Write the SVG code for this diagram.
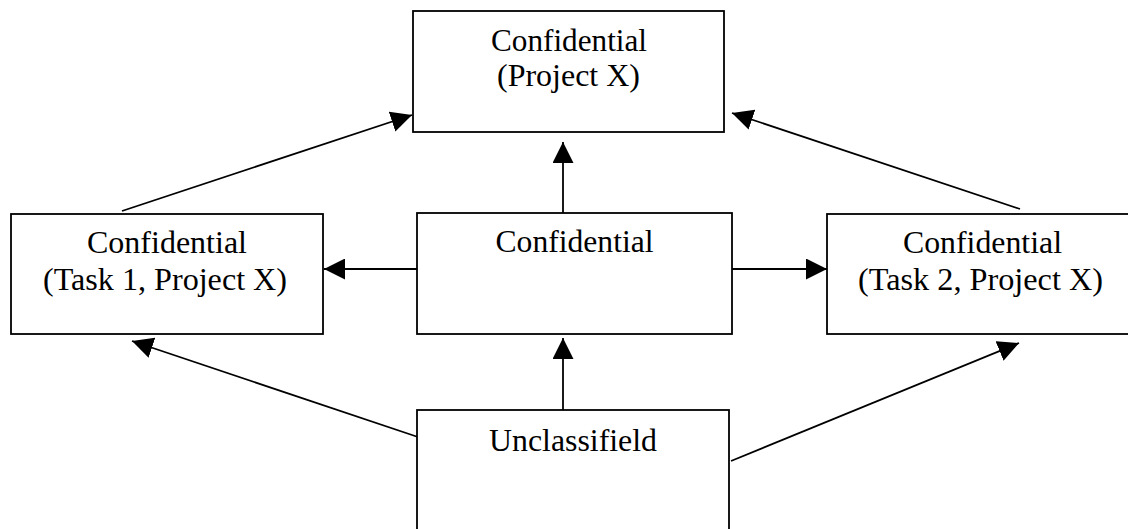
<svg xmlns="http://www.w3.org/2000/svg" width="1128" height="529" viewBox="0 0 1128 529">
<style>
.box{fill:#fff;stroke:#000;stroke-width:1.8}
.lbl{font-family:"Liberation Serif","Times New Roman",serif;font-size:32px;fill:#000;text-anchor:middle}
.con{stroke:#000;stroke-width:1.8;fill:none;marker-end:url(#ah)}
</style>
<defs>
<marker id="ah" markerUnits="userSpaceOnUse" markerWidth="21" markerHeight="21" refX="21" refY="10.5" orient="auto" viewBox="0 0 21 21">
<path d="M0,0 L21,10.5 L0,21 z" fill="#000"/>
</marker>
</defs>
<rect width="1128" height="529" fill="#fff"/>
<g id="connectors">
<line class="con" x1="563" y1="213" x2="563" y2="142"/>
<line class="con" x1="563" y1="410" x2="563" y2="338"/>
<line class="con" x1="417" y1="269" x2="324" y2="269"/>
<line class="con" x1="732" y1="269" x2="827" y2="269"/>
<line class="con" x1="122" y1="211" x2="412" y2="115"/>
<line class="con" x1="1020" y1="209" x2="732" y2="113"/>
<line class="con" x1="418" y1="437" x2="132" y2="341"/>
<line class="con" x1="731" y1="461" x2="1019" y2="343"/>
</g>
<g id="node-top">
<rect class="box" x="413" y="11" width="311" height="121"/>
<text class="lbl" x="569" y="51" textLength="156" lengthAdjust="spacingAndGlyphs">Confidential</text>
<text class="lbl" x="568.5" y="86" textLength="143" lengthAdjust="spacingAndGlyphs">(Project X)</text>
</g>
<g id="node-task1">
<rect class="box" x="11" y="214" width="312" height="120"/>
<text class="lbl" x="167" y="253" textLength="160" lengthAdjust="spacingAndGlyphs">Confidential</text>
<text class="lbl" x="165" y="290" textLength="244" lengthAdjust="spacingAndGlyphs">(Task 1, Project X)</text>
</g>
<g id="node-middle">
<rect class="box" x="417" y="213" width="315" height="121"/>
<text class="lbl" x="574.5" y="252" textLength="158" lengthAdjust="spacingAndGlyphs">Confidential</text>
</g>
<g id="node-task2">
<rect class="box" x="827" y="214" width="312" height="120"/>
<text class="lbl" x="982.5" y="253" textLength="159" lengthAdjust="spacingAndGlyphs">Confidential</text>
<text class="lbl" x="980.5" y="290" textLength="245" lengthAdjust="spacingAndGlyphs">(Task 2, Project X)</text>
</g>
<g id="node-unclassified">
<rect class="box" x="417" y="410" width="312" height="130"/>
<text class="lbl" x="573" y="451" textLength="168" lengthAdjust="spacingAndGlyphs">Unclassifield</text>
</g>
</svg>
